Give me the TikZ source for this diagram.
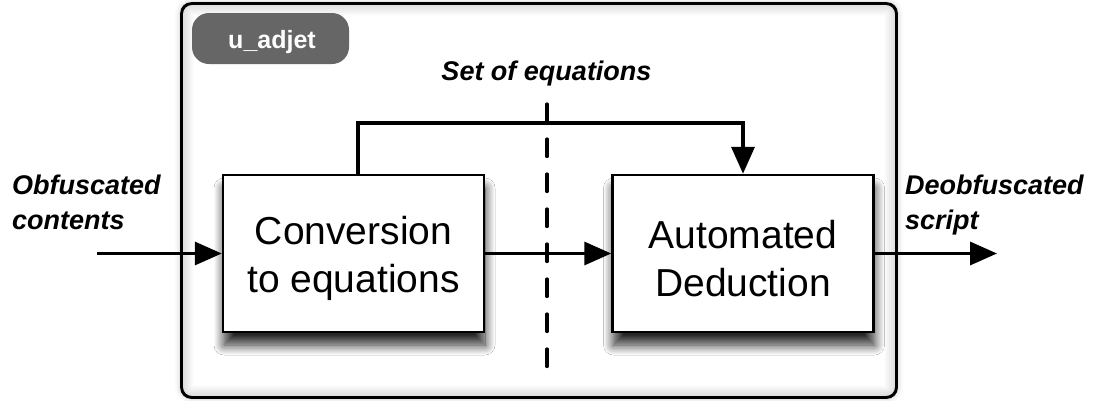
\documentclass[tikz,border=0pt]{standalone}
\usepackage{fontspec}
\setmainfont{Liberation Sans}
\usetikzlibrary{arrows.meta,shadows.blur}

\tikzset{
  frame/.style={draw=black, line width=1.8pt, fill=white, rounded corners=10pt,
    minimum width=714pt, minimum height=393pt, inner sep=0pt,
    blur shadow={shadow xshift=0pt, shadow yshift=0pt, shadow blur radius=7pt, shadow opacity=30}},
  pill/.style={fill=black!60, rounded corners=17pt, minimum width=157pt,
    minimum height=51pt, inner sep=0pt},
  pilltext/.style={text=white, font=\fontsize{25}{30}\selectfont\bfseries, inner sep=0pt},
  block/.style={draw=black, line width=2.5pt, fill=white, minimum width=261pt,
    minimum height=157pt, align=center, inner sep=0pt,
    font=\fontsize{39}{48}\selectfont,
    blur shadow={shadow xshift=1pt, shadow yshift=-13pt,
      shadow blur radius=10pt, shadow blur steps=12, shadow opacity=85}},
  tag/.style={font=\fontsize{27}{35}\selectfont\bfseries\itshape, align=left, inner sep=0pt},
  flow/.style={line width=3.5pt, -{Triangle[length=27pt,width=23pt]}},
  cut/.style={line width=3.2pt, line cap=round, dash pattern=on 17.5pt off 17.5pt},
}
% taller first line, so the two text lines sit a little lower in the box
\newcommand{\firstline}{\rule{0pt}{39pt}}

\begin{document}
\begin{tikzpicture}[x=1pt, y=-1pt]
  \useasboundingbox (0,0) rectangle (1100,400);

  % enclosing module
  \node[frame] (module) at (539,200.5) {};
  \begin{scope}
    \clip[rounded corners=10pt] (module.south west) rectangle (module.north east);
    \foreach \w in {4,8,12,16,20,24}
      \draw[black, opacity=0.025, line width=\w pt, rounded corners=10pt]
        (module.south west) rectangle (module.north east);
  \end{scope}
  \draw[black, line width=1.8pt, rounded corners=10pt]
    (module.south west) rectangle (module.north east);

  % module name
  \node[pill] (namebox) at (270.5,38.5) {};
  \node[pilltext, anchor=base] (name) at (272,48) {u\_adjet};

  % processing stages
  \node[block] (conv) at (353.5,253.5) {\firstline Conversion\\to equations};
  \node[block] (ded)  at (743,253.5) {\firstline Automated\\Deduction};

  % boundary between the two stages
  \coordinate (cutT) at (547,104);
  \coordinate (cutB) at (547,366.5);
  \draw[cut] (cutT) -- (cutB);
  \node[tag, anchor=base] (eqs) at (546.5,80) {Set of equations};

  % inputs and outputs
  \node[tag, anchor=north west] (inlabel) at (12,175) {Obfuscated\\contents};
  \node[tag, anchor=north west] (outlabel) at (905,175) {Deobfuscated\\script};
  \coordinate (in) at (97,253.5);
  \coordinate (out) at (997,253.5);
  \coordinate (bypass) at (358,123);

  \draw[flow] (in) -- (conv.west);
  \draw[flow] (conv.east) -- (ded.west);
  \draw[flow] (ded.east) -- (out);
  \draw[flow] (conv.north -| bypass) -- (bypass) -| (ded.north);
\end{tikzpicture}
\end{document}
